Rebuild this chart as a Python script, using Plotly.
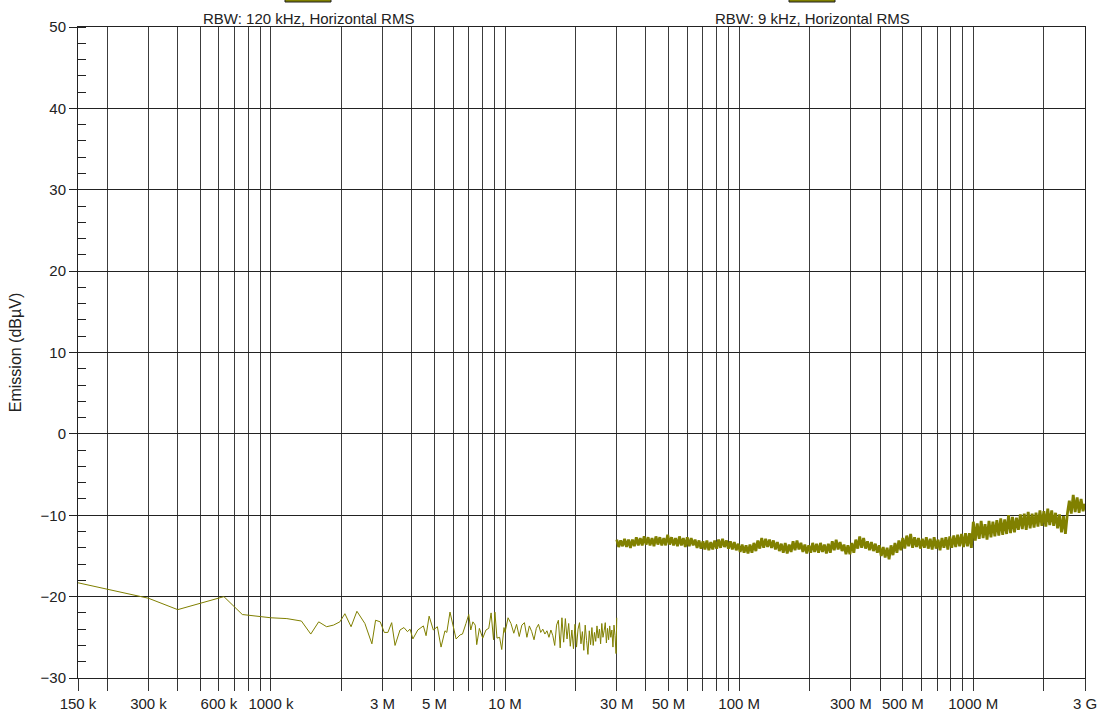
import numpy as np
import plotly.graph_objects as go

# ---------------- data ----------------
# Trace 1: RBW 120 kHz (150 kHz .. 30 MHz), frequency in MHz, level in dBuV
freq1_mhz = [
    0.15, 0.30, 0.40, 0.63, 0.755, 0.90, 1.00, 1.17, 1.35, 1.48, 1.60, 1.73, 1.85, 1.97,
    2.07, 2.20, 2.33, 2.52, 2.70, 2.80, 2.93, 3.05, 3.16, 3.28, 3.39, 3.56, 3.70, 3.83,
    3.93, 4.04, 4.24, 4.48, 4.60, 4.74, 4.94, 5.14, 5.33, 5.54, 5.64, 5.82, 6.00, 6.18,
    6.43, 6.58, 6.81, 7.00, 7.14, 7.29, 7.46, 7.57, 7.77, 8.03, 8.29, 8.52, 8.72, 8.93,
    9.05, 9.24, 9.48, 9.68, 9.90, 10.0,
    10.3, 10.6, 10.9, 11.2, 11.5, 11.8, 12.1, 12.4, 12.7, 13.0, 13.3, 13.6, 13.9, 14.2,
    14.5, 14.8, 15.1, 15.4, 15.7, 16.0, 16.3, 16.6, 16.9, 17.2, 17.5, 17.8, 18.1, 18.4,
    18.7, 19.0, 19.3, 19.6, 19.9, 20.2, 20.5, 20.8, 21.1, 21.4, 21.7, 22.0, 22.3, 22.6,
    22.9, 23.2, 23.5, 23.8, 24.1, 24.4, 24.7, 25.0, 25.3, 25.6, 25.9, 26.2, 26.5, 26.8,
    27.1, 27.4, 27.7, 28.0, 28.3, 28.6, 28.9, 29.2, 29.5, 29.8, 30.0,
]
level1_dbuv = [
    -18.3, -20.2, -21.6, -20.0, -22.2, -22.5, -22.6, -22.7, -23.0, -24.6, -23.1, -23.7, -23.5, -23.1,
    -22.1, -23.7, -21.8, -23.3, -25.8, -22.9, -23.1, -24.4, -24.4, -23.2, -26.0, -24.1, -23.8, -24.3,
    -24.0, -25.2, -24.1, -23.6, -24.8, -22.4, -24.1, -23.7, -26.2, -24.2, -24.4, -21.9, -23.7, -25.2,
    -24.7, -24.6, -23.3, -22.2, -24.1, -23.1, -23.5, -25.9, -23.9, -25.1, -24.1, -23.9, -22.0, -25.3,
    -21.9, -25.1, -25.0, -26.5, -23.8, -24.4,
    -22.6, -23.3, -24.5, -23.4, -24.9, -23.5, -23.2, -25.0, -23.6, -24.3, -25.3, -23.9, -23.4, -24.4,
    -24.0, -24.6, -24.2, -25.0, -24.1, -24.8, -26.0, -23.5, -22.9, -26.3, -22.6, -25.6, -22.7, -25.2,
    -23.3, -26.1, -24.1, -26.4, -23.4, -26.2, -24.0, -23.2, -25.8, -24.3, -26.6, -23.5, -25.4, -27.1,
    -24.2, -25.9, -23.8, -26.0, -24.4, -25.5, -23.6, -25.1, -24.0, -25.8, -23.3, -25.0, -24.2, -23.2,
    -25.7, -23.9, -25.3, -23.6, -25.0, -24.1, -26.2, -23.5, -24.8, -27.0, -22.6,
]

# Trace 2: RBW 9 kHz, log sweep 30 MHz .. 3 GHz, level in dBuV
sweep2_start_mhz = 30.0
sweep2_stop_mhz = 3000.0
level2_dbuv = [
    -13.0, -13.9, -13.1, -13.8, -12.9, -13.9, -13.0, -14.0, -13.0, -13.8,
    -12.7, -13.7, -12.8, -13.7, -12.6, -13.6, -12.7, -13.7, -12.8, -13.8,
    -12.6, -13.6, -12.7, -13.7, -12.8, -13.7, -12.4, -13.6, -12.7, -13.7,
    -12.8, -13.8, -12.6, -13.7, -12.8, -13.9, -12.7, -13.8, -12.8, -13.7,
    -13.0, -14.0, -13.1, -14.1, -13.2, -14.2, -13.1, -14.3, -13.3, -14.2,
    -13.1, -14.1, -13.0, -14.0, -12.9, -13.9, -13.1, -14.1, -13.2, -14.2,
    -13.3, -14.3, -13.5, -14.5, -13.6, -14.6, -13.7, -14.7, -13.6, -14.6,
    -13.4, -14.4, -13.1, -14.1, -12.8, -14.0, -12.9, -13.9, -13.0, -14.0,
    -13.1, -14.2, -13.3, -14.4, -13.5, -14.6, -13.4, -14.7, -13.6, -14.5,
    -13.2, -14.3, -13.1, -14.2, -13.4, -14.5, -13.6, -14.7, -13.7, -14.6,
    -13.4, -14.5, -13.5, -14.6, -13.4, -14.5, -13.6, -14.7, -13.5, -14.6,
    -13.2, -14.3, -13.0, -14.2, -13.3, -14.4, -13.6, -14.8, -13.7, -14.8,
    -13.4, -14.6, -13.0, -14.1, -12.6, -14.0, -12.8, -14.1, -13.2, -14.3,
    -13.3, -14.4, -13.5, -14.6, -13.7, -15.0, -13.9, -15.2, -14.0, -15.4,
    -13.7, -14.9, -13.4, -14.6, -13.1, -14.3, -12.8, -14.1, -12.5, -13.8,
    -12.3, -14.0, -12.7, -13.9, -12.8, -14.1, -12.9, -14.0, -12.7, -14.1,
    -12.9, -14.2, -12.7, -14.1, -13.0, -14.3, -12.8, -14.0, -12.7, -14.2,
    -12.6, -14.0, -12.5, -13.9, -12.4, -13.8, -12.3, -13.9, -12.2, -13.8,
    -12.2, -14.0, -10.8, -13.1, -11.0, -12.9, -10.7, -12.8, -11.1, -13.0,
    -10.7, -12.7, -10.8, -12.6, -10.6, -12.5, -10.4, -12.4, -10.5, -12.3,
    -10.0, -12.2, -10.2, -12.1, -10.3, -11.8, -9.9, -11.7, -9.8, -11.8,
    -9.6, -11.6, -9.8, -11.5, -9.7, -11.4, -9.4, -11.3, -9.5, -11.4,
    -9.2, -11.2, -9.4, -11.3, -9.7, -11.6, -9.9, -12.1, -10.1, -12.3,
    -9.8, -8.2, -9.8, -7.5, -9.6, -7.8, -9.7, -8.0, -9.5, -8.6,
]

legend_labels = ["RBW: 120 kHz, Horizontal RMS", "RBW: 9 kHz, Horizontal RMS"]
y_title = "Emission (dBµV)"

# Axis grid / ticks (Hz)
grid_hz = ([k * 1e5 for k in [1.5, 2, 3, 4, 5, 6, 7, 8, 9]]
           + [k * 1e6 for k in range(1, 10)]
           + [k * 1e7 for k in range(1, 10)]
           + [k * 1e8 for k in range(1, 10)]
           + [k * 1e9 for k in [1, 2, 3]])
labels_hz = {1.5e5: "150 k", 3e5: "300 k", 6e5: "600 k", 1e6: "1000 k", 3e6: "3 M",
             5e6: "5 M", 1e7: "10 M", 3e7: "30 M", 5e7: "50 M", 1e8: "100 M",
             3e8: "300 M", 5e8: "500 M", 1e9: "1000 M", 3e9: "3 G"}
tick_text = [labels_hz.get(v, "") for v in grid_hz]

# ---------------- figure ----------------
color = "#808000"
freq1_hz = [f * 1e6 for f in freq1_mhz]
freq2_hz = np.geomspace(sweep2_start_mhz, sweep2_stop_mhz, len(level2_dbuv)) * 1e6

fig = go.Figure()
fig.add_trace(go.Scatter(x=freq1_hz, y=level1_dbuv, mode="lines", name=legend_labels[0],
                         line=dict(color=color, width=1), showlegend=False))
fig.add_trace(go.Scatter(x=freq2_hz, y=level2_dbuv, mode="lines", name=legend_labels[1],
                         line=dict(color=color, width=2.8), showlegend=False))

font_family = "Liberation Sans, Arial, sans-serif"
L, R, T, B = 78, 19, 27, 39
W, H = 1104, 717
pw, ph = W - L - R, H - T - B

def px(x):
    return (x - L) / pw

def py(y):
    return (H - B - y) / ph

shapes = []
annotations = []
for lab, cx in zip(legend_labels, [308, 812]):
    shapes.append(dict(type="rect", xref="paper", yref="paper",
                       x0=px(cx - 23), x1=px(cx + 23), y0=py(2), y1=py(-14),
                       fillcolor=color, line=dict(color="#222222", width=1)))
    annotations.append(dict(text=lab, xref="paper", yref="paper", x=px(cx), y=py(19),
                            xanchor="center", yanchor="middle", showarrow=False,
                            font=dict(size=15, color="#222222", family=font_family)))

fig.update_layout(
    width=W, height=H,
    margin=dict(l=L, r=R, t=T, b=B, pad=0, autoexpand=False),
    paper_bgcolor="white", plot_bgcolor="white",
    font=dict(family=font_family, size=15, color="#222222"),
    shapes=shapes, annotations=annotations,
    showlegend=False,
)
fig.update_xaxes(
    type="log", range=[np.log10(1.5e5), np.log10(3e9)], automargin=False,
    tickmode="array", tickvals=grid_hz, ticktext=tick_text,
    ticks="outside", ticklen=12, tickcolor="#333333", tickwidth=1,
    showgrid=True, gridcolor="#3c3c3c", gridwidth=1,
    showline=True, linecolor="#222222", linewidth=1, mirror=True,
    tickfont=dict(size=15, color="#222222"), zeroline=False,
)
fig.update_yaxes(
    range=[-30, 50], tickmode="linear", tick0=-30, dtick=10, automargin=False,
    ticks="outside", ticklen=8, tickcolor="#222222",
    showgrid=True, gridcolor="#222222", gridwidth=1,
    minor=dict(dtick=2, ticks="inside", ticklen=8, tickcolor="#222222", showgrid=False),
    showline=True, linecolor="#222222", linewidth=1, mirror=True,
    zeroline=False, tickfont=dict(size=15, color="#222222"),
    title=dict(text=y_title, font=dict(size=16, color="#222222"), standoff=14),
)

fig.write_html("out.html", config={"displayModeBar": False},
               post_script="document.body.style.margin='0';document.body.style.overflow='hidden';")
